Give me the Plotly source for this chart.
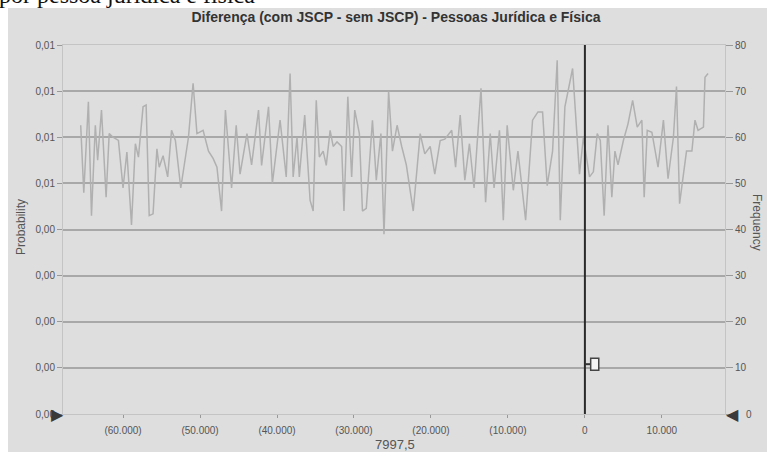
import plotly.graph_objects as go

# ---- data ----
bin_centers_k = [
    -65.5, -65.1, -64.5, -64.1, -63.6, -63.3, -62.8, -62.2, -61.8, -61.3,
    -60.6, -60.0, -59.5, -58.9, -58.4, -58.0, -57.4, -57.0, -56.6, -56.1,
    -55.6, -55.3, -54.8, -54.2, -53.7, -53.2, -52.5, -51.5, -50.9, -50.4,
    -49.6, -48.9, -48.3, -47.8, -47.2, -46.7, -45.9, -45.3, -44.8, -43.9,
    -43.3, -42.4, -42.0, -41.1, -40.6, -39.6, -38.8, -38.3, -37.9, -37.4,
    -37.1, -36.4, -35.7, -35.3, -34.9, -34.5, -34.0, -33.6, -33.1, -32.7,
    -32.2, -31.6, -31.3, -30.8, -30.3, -29.9, -29.3, -28.9, -28.4, -27.6,
    -27.1, -26.5, -26.1, -25.5, -25.0, -24.4, -23.8, -23.2, -22.3, -21.4,
    -20.8, -20.1, -19.5, -18.8, -18.2, -17.3, -16.8, -16.2, -15.6, -15.0,
    -14.4, -13.5, -12.9, -12.3, -11.8, -11.1, -10.6, -10.1, -9.3, -8.7,
    -7.7, -6.8, -6.1, -5.5, -4.9, -4.2, -3.6, -3.2, -2.6, -1.6,
    -0.7, -0.2, 0.6, 1.1, 1.6, 2.0, 2.5, 3.0, 3.5, 3.9,
    4.3, 5.0, 5.6, 6.2, 6.8, 7.4, 7.7, 8.1, 8.7, 9.5,
    10.2, 10.8, 11.5, 11.9, 12.3, 13.2, 13.9, 14.3, 14.7, 15.4,
    15.6, 16.0,
]
frequency = [
    62.6, 48, 67.7, 43, 62.6, 55, 65.9, 47, 60.8, 60,
    59.3, 49, 56.8, 41, 58.6, 55.7, 66.6, 67, 43, 43.4,
    57.5, 53.5, 56, 51.4, 61.5, 59.3, 49, 60, 71.7, 60.8,
    61.5, 57, 55.4, 53.5, 44, 65.9, 49, 62.6, 52, 60.8,
    54, 65.9, 53.9, 66.6, 50, 63.7, 51.4, 73.8, 51.4, 60,
    51.4, 64.8, 46.3, 44, 68, 55.7, 57, 53.9, 61.5, 58,
    59, 58, 44, 68.8, 51.4, 65.9, 60.8, 44, 44.6, 63.7,
    50.7, 60.8, 39, 69.9, 57, 62.6, 58, 54, 44, 60.8,
    56.4, 58, 52, 59.3, 59.6, 61.5, 53.5, 64.8, 50.7, 58.6,
    49, 70.6, 45.9, 60.8, 49, 61.5, 42, 62.6, 48.5, 57,
    42, 63.7, 65.5, 65.5, 49.5, 57, 76.7, 42, 66.6, 74.9,
    52, 60, 51.4, 52.5, 60.8, 59.3, 43, 62.6, 47, 57,
    54, 59.3, 62.9, 68, 62.2, 63.7, 47, 61.5, 61.1, 53.5,
    63.7, 51, 60, 71, 45.6, 57, 57, 63.7, 61.5, 62.2,
    73, 73.8,
]
x_tick_vals = [-60000, -50000, -40000, -30000, -20000, -10000, 0, 10000]
x_tick_text = ["(60.000)", "(50.000)", "(40.000)", "(30.000)", "(20.000)",
               "(10.000)", "0", "10.000"]
prob_tick_vals = [0, 0.001, 0.002, 0.003, 0.004, 0.005, 0.006, 0.007, 0.008]
prob_tick_text = ["0,00", "0,00", "0,00", "0,00", "0,00", "0,01", "0,01", "0,01", "0,01"]
freq_tick_vals = [0, 10, 20, 30, 40, 50, 60, 70, 80]
freq_tick_text = ["\u2007\u20070", "10", "20", "30", "40", "50", "60", "70", "80"]
marker_x = 0
marker_freq = 10.8
title_text = "Diferença (com JSCP - sem JSCP) - Pessoas Jurídica e Física"
x_value_label = "7997,5"
cut_text = "por pessoa jurídica e física"

x_values = [v * 1000 for v in bin_centers_k]

# ---- layout geometry (page pixels; body margin removed below) ----
W, H = 767, 452
PLOT_L, PLOT_R, PLOT_T, PLOT_B = 63, 725, 45, 414
L, R, T, B = PLOT_L, W - PLOT_R, PLOT_T, H - PLOT_B
PW, PH = W - L - R, H - T - B


def px_x(p):
    return (p - L) / PW


def px_y(p):
    return (H - B - p) / PH


FONT = "Liberation Sans, Arial, sans-serif"
TICK_COL = "#555555"

fig = go.Figure()
fig.add_trace(go.Scatter(
    x=x_values, y=frequency, yaxis="y2", mode="lines",
    line=dict(color="#b0b0b0", width=1.5), showlegend=False,
))
# invisible trace to activate left axis
fig.add_trace(go.Scatter(x=[None], y=[None], yaxis="y", showlegend=False))

shapes = [
    # grey panel behind the plot area (white border top/left)
    dict(type="rect", xref="paper", yref="paper",
         x0=px_x(8), x1=px_x(W + 5), y0=px_y(H + 5), y1=px_y(8),
         fillcolor="#dedede", line=dict(width=0), layer="below"),
    # vertical black line at 0
    dict(type="line", xref="x", yref="paper", x0=0, x1=0, y0=0, y1=1,
         line=dict(color="#2a2a2a", width=2)),
    # marker connector and box
    dict(type="line", xref="x", yref="y2", x0=marker_x, x1=marker_x + 800,
         y0=marker_freq, y1=marker_freq, line=dict(color="#333333", width=2)),
    dict(type="rect", xref="x", yref="y2", x0=marker_x + 750, x1=marker_x + 1800,
         y0=marker_freq - 1.3, y1=marker_freq + 1.3,
         fillcolor="#f4f4f4", line=dict(color="#444444", width=1.5)),
]

annotations = [
    dict(text=cut_text, xref="paper", yref="paper", x=px_x(-3), y=px_y(-5),
         xanchor="left", yanchor="middle", showarrow=False,
         font=dict(family="Liberation Serif, Times New Roman, serif", size=24, color="#111111")),
    dict(text="Probability", xref="paper", yref="paper", x=px_x(21), y=px_y(227),
         textangle=-90, showarrow=False, xanchor="center", yanchor="middle",
         font=dict(family=FONT, size=12, color=TICK_COL)),
    dict(text="Frequency", xref="paper", yref="paper", x=px_x(757), y=px_y(222),
         textangle=90, showarrow=False, xanchor="center", yanchor="middle",
         font=dict(family=FONT, size=12, color=TICK_COL)),
    dict(text=x_value_label, xref="paper", yref="paper", x=px_x(395), y=px_y(444),
         showarrow=False, xanchor="center", yanchor="middle",
         font=dict(family=FONT, size=13, color=TICK_COL)),
    dict(text="▶", xref="paper", yref="paper", x=px_x(57), y=px_y(414),
         showarrow=False, xanchor="center", yanchor="middle",
         font=dict(family="DejaVu Sans", size=16, color="#3a3a3a")),
    dict(text="◀", xref="paper", yref="paper", x=px_x(732), y=px_y(414),
         showarrow=False, xanchor="center", yanchor="middle",
         font=dict(family="DejaVu Sans", size=16, color="#3a3a3a")),
]

fig.update_layout(
    width=W, height=H,
    margin=dict(l=L, r=R, t=T, b=B, pad=0),
    paper_bgcolor="#ffffff", plot_bgcolor="#fcfcfc",
    title=dict(text="<b>" + title_text + "</b>", x=px_x(396), xref="paper",
               xanchor="center", y=1 - 17 / H, yref="container", yanchor="middle",
               font=dict(family=FONT, size=14, color="#333333")),
    showlegend=False,
    xaxis=dict(range=[-67800, 18200], tickvals=x_tick_vals, ticktext=x_tick_text,
               showgrid=False, zeroline=False, ticks="outside", ticklen=3,
               tickcolor="#999999", ticklabelstandoff=4,
               tickfont=dict(family=FONT, size=10, color=TICK_COL),
               showline=True, linecolor="#c4c4c4", linewidth=1, mirror=True),
    yaxis=dict(range=[0, 0.008], tickvals=prob_tick_vals, ticktext=prob_tick_text,
               showgrid=True, gridcolor="#a8a8a8", gridwidth=2, zeroline=False,
               ticks="outside", ticklen=5, tickcolor="#999999",
               tickfont=dict(family=FONT, size=10, color=TICK_COL),
               showline=True, linecolor="#c4c4c4", linewidth=1, mirror=True),
    yaxis2=dict(range=[0, 80], tickvals=freq_tick_vals, ticktext=freq_tick_text,
                overlaying="y", side="right",
                showgrid=False, zeroline=False, ticks="outside", ticklen=7,
                tickcolor="#999999",
                tickfont=dict(family=FONT, size=10, color=TICK_COL)),
    shapes=shapes,
    annotations=annotations,
)

fig.write_html("out.html", config={"displayModeBar": False},
               post_script="document.body.style.margin='0';document.body.style.overflow='hidden';")
